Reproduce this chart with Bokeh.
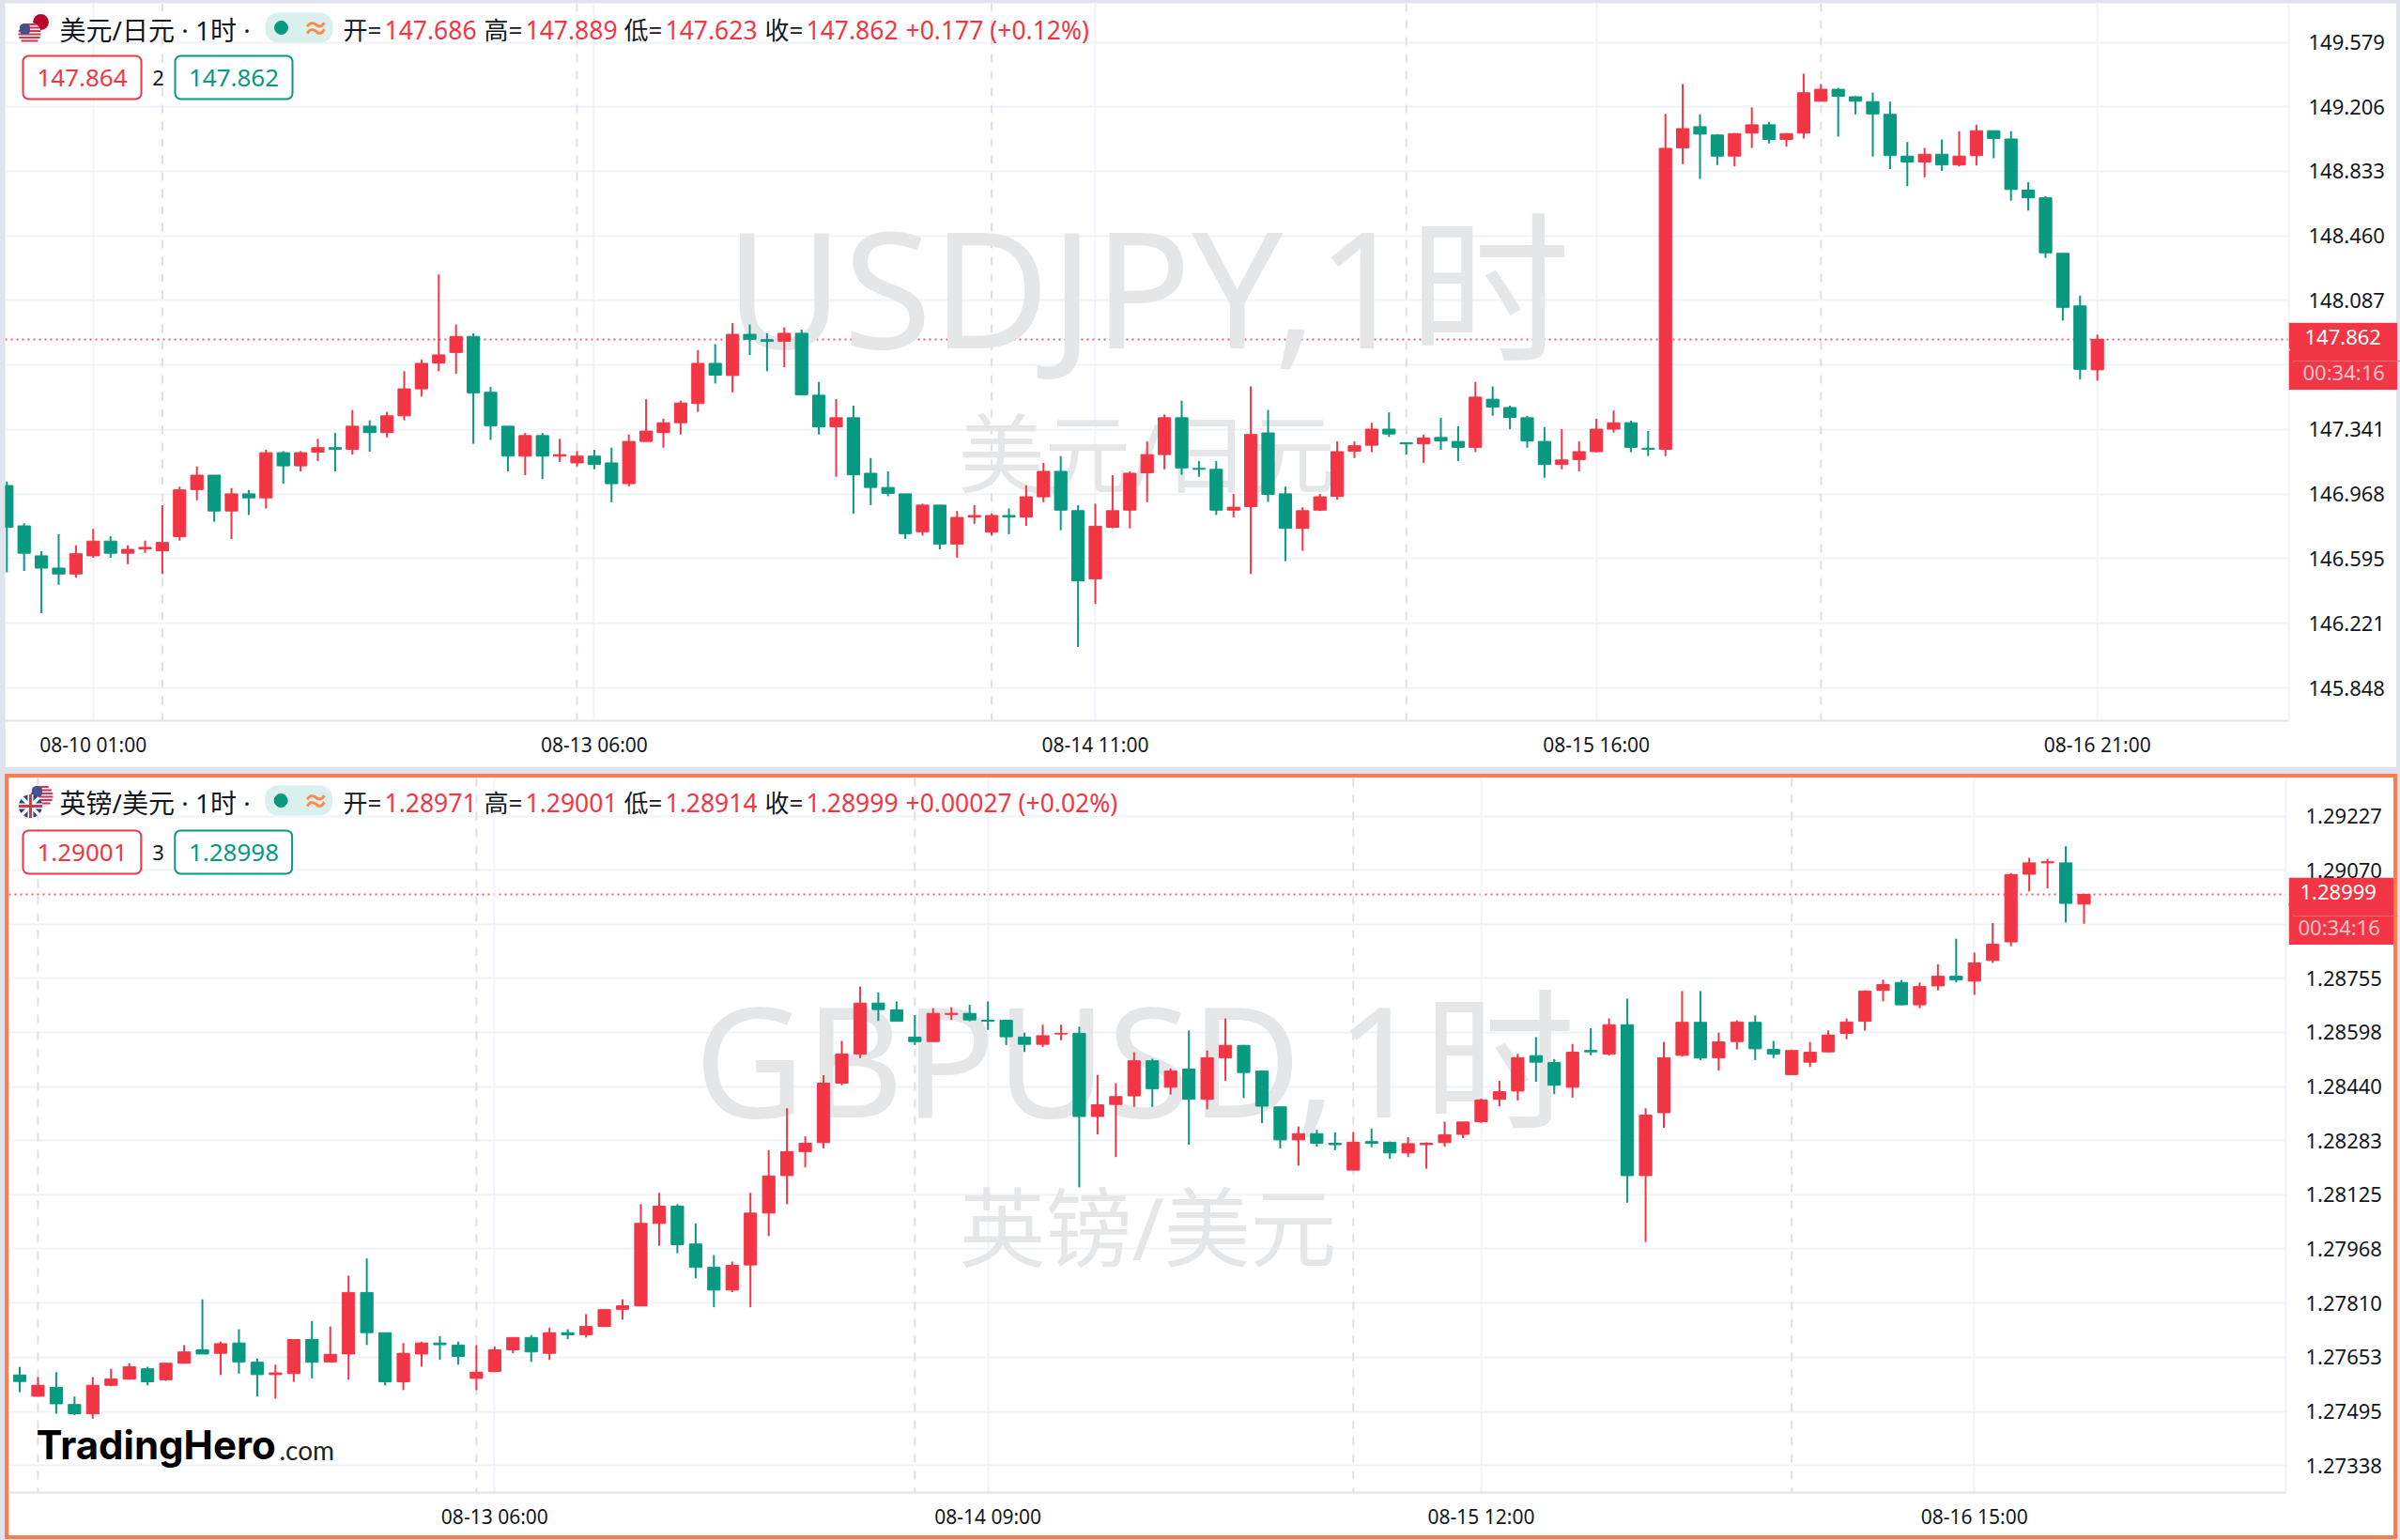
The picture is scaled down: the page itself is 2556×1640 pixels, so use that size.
from bokeh.plotting import figure
from bokeh.layouts import column
from bokeh.models import (ColumnDataSource, Range1d, LinearAxis, FixedTicker, NumeralTickFormatter,
                          Label, Span, Title, Div)
from bokeh.embed import file_html
from bokeh.resources import INLINE

usd_open = [147.017,146.784,146.611,146.540,146.506,146.611,146.696,146.626,146.651,146.640,
146.722,146.994,147.077,146.870,146.969,146.946,147.207,147.131,147.210,147.236,
147.227,147.360,147.323,147.420,147.576,147.726,147.786,147.879,147.556,147.360,
147.187,147.306,147.187,147.148,147.187,147.148,147.028,147.272,147.323,147.380,
147.491,147.723,147.653,147.891,147.860,147.851,147.897,147.539,147.357,147.409,
147.088,147.006,146.969,146.750,146.904,146.679,146.835,146.748,146.844,146.835,
146.952,147.099,146.872,146.478,146.776,146.875,147.091,147.196,147.409,147.116,
147.111,146.875,146.895,147.321,146.969,146.770,146.875,146.955,147.216,147.250,
147.343,147.264,147.258,147.295,147.272,147.238,147.516,147.468,147.409,147.272,
147.139,147.167,147.213,147.343,147.380,147.233,147.227,148.969,149.091,149.043,
148.921,149.054,149.102,149.017,149.054,149.238,149.307,149.264,149.236,149.162,
148.921,148.887,148.932,148.870,148.924,149.068,149.020,148.725,148.680,148.359,
148.055,147.686]
usd_close = [146.776,146.626,146.540,146.506,146.623,146.696,146.626,146.648,146.660,146.688,
146.992,147.077,146.870,146.969,146.946,147.207,147.131,147.207,147.236,147.227,
147.360,147.323,147.420,147.576,147.723,147.772,147.879,147.553,147.363,147.187,
147.306,147.187,147.196,147.187,147.139,147.028,147.272,147.332,147.380,147.494,
147.723,147.655,147.891,147.862,147.851,147.897,147.542,147.357,147.409,147.079,
147.006,146.972,146.739,146.904,146.679,146.833,146.844,146.844,146.835,146.952,
147.099,146.875,146.467,146.782,146.872,147.088,147.196,147.409,147.119,147.111,
146.875,146.892,147.312,146.966,146.770,146.872,146.952,147.213,147.247,147.343,
147.315,147.258,147.292,147.275,147.238,147.528,147.471,147.411,147.275,147.139,
147.165,147.213,147.343,147.380,147.238,147.227,148.966,149.080,149.048,148.921,
149.051,149.102,149.017,149.051,149.287,149.307,149.267,149.238,149.165,148.924,
148.887,148.932,148.870,148.921,149.068,149.023,148.728,148.680,148.362,148.047,
147.689,147.862]
usd_high = [147.040,146.799,146.637,146.736,146.671,146.767,146.725,146.671,146.699,146.904,
147.011,147.128,147.077,147.003,146.992,147.224,147.216,147.216,147.287,147.321,
147.454,147.394,147.443,147.678,147.746,148.237,147.948,147.897,147.587,147.360,
147.321,147.321,147.287,147.216,147.224,147.236,147.312,147.516,147.403,147.508,
147.800,147.834,147.956,147.948,147.897,147.931,147.919,147.616,147.516,147.479,
147.176,147.099,146.969,146.912,146.904,146.870,146.904,146.855,146.884,147.017,
147.148,147.187,146.904,146.912,147.077,147.099,147.272,147.428,147.508,147.159,
147.159,146.969,147.590,147.454,147.011,146.892,146.969,147.272,147.272,147.380,
147.440,147.264,147.312,147.409,147.360,147.616,147.590,147.479,147.420,147.355,
147.343,147.272,147.403,147.451,147.392,147.332,149.165,149.338,149.162,149.048,
149.054,149.202,149.119,149.054,149.397,149.338,149.315,149.267,149.289,149.236,
149.003,148.969,149.017,149.065,149.102,149.068,149.065,148.770,148.691,148.359,
148.115,147.889]
usd_low = [146.515,146.523,146.279,146.444,146.484,146.600,146.600,146.563,146.628,146.506,
146.699,146.932,146.807,146.708,146.847,146.884,147.028,147.099,147.159,147.099,
147.196,147.213,147.295,147.394,147.531,147.678,147.664,147.258,147.281,147.099,
147.077,147.054,147.153,147.128,147.111,146.921,147.011,147.272,147.236,147.312,
147.443,147.607,147.556,147.772,147.678,147.701,147.539,147.312,147.068,146.855,
146.904,146.955,146.708,146.728,146.648,146.600,146.796,146.728,146.736,146.784,
146.921,146.759,146.084,146.333,146.770,146.770,146.921,147.111,147.079,147.068,
146.847,146.833,146.506,146.923,146.580,146.640,146.870,146.935,147.176,147.210,
147.298,147.196,147.148,147.224,147.159,147.210,147.420,147.343,147.236,147.062,
147.111,147.099,147.210,147.323,147.210,147.187,147.187,148.875,148.790,148.870,
148.861,148.969,148.994,148.975,149.023,149.238,149.034,149.162,148.918,148.847,
148.748,148.799,148.836,148.861,148.867,148.909,148.663,148.606,148.333,147.970,
147.630,147.623]

gbp_open = [1.27601,1.27539,1.27565,1.27515,1.27488,1.27571,1.27589,1.27619,1.27587,1.27635,
1.27674,1.27664,1.27694,1.27638,1.27602,1.27605,1.27704,1.27639,1.27662,1.27841,
1.27724,1.27581,1.27662,1.27694,1.27688,1.27591,1.27611,1.27674,1.27710,1.27664,
1.27724,1.27718,1.27742,1.27792,1.27802,1.28042,1.28092,1.27982,1.27914,1.27848,
1.27921,1.28072,1.28181,1.28251,1.28277,1.28450,1.28535,1.28683,1.28663,1.28584,
1.28571,1.28650,1.28653,1.28633,1.28633,1.28584,1.28563,1.28593,1.28595,1.28353,
1.28388,1.28413,1.28515,1.28438,1.28491,1.28403,1.28524,1.28560,1.28485,1.28381,
1.28285,1.28303,1.28275,1.28197,1.28280,1.28278,1.28247,1.28271,1.28277,1.28301,
1.28338,1.28403,1.28427,1.28530,1.28510,1.28438,1.28545,1.28535,1.28620,1.28181,
1.28364,1.28531,1.28627,1.28524,1.28571,1.28627,1.28548,1.28475,1.28511,1.28541,
1.28595,1.28630,1.28720,1.28743,1.28678,1.28733,1.28761,1.28747,1.28807,1.28861,
1.29058,1.29091,1.29091,1.28971]
gbp_close = [1.27582,1.27571,1.27517,1.27488,1.27571,1.27589,1.27625,1.27581,1.27635,1.27668,
1.27662,1.27692,1.27639,1.27602,1.27607,1.27704,1.27638,1.27661,1.27841,1.27724,
1.27581,1.27664,1.27694,1.27689,1.27655,1.27609,1.27674,1.27710,1.27668,1.27724,
1.27718,1.27742,1.27791,1.27802,1.28042,1.28092,1.27980,1.27914,1.27848,1.27920,
1.28072,1.28180,1.28251,1.28275,1.28450,1.28535,1.28683,1.28664,1.28630,1.28571,
1.28653,1.28653,1.28634,1.28630,1.28585,1.28563,1.28588,1.28595,1.28353,1.28387,
1.28411,1.28515,1.28434,1.28485,1.28403,1.28524,1.28560,1.28481,1.28383,1.28285,
1.28303,1.28275,1.28271,1.28278,1.28275,1.28247,1.28274,1.28275,1.28300,1.28337,
1.28401,1.28425,1.28524,1.28511,1.28444,1.28540,1.28541,1.28620,1.28181,1.28357,
1.28524,1.28627,1.28523,1.28570,1.28628,1.28550,1.28535,1.28545,1.28540,1.28590,
1.28628,1.28718,1.28737,1.28678,1.28731,1.28761,1.28751,1.28800,1.28854,1.29057,
1.29091,1.29094,1.28973,1.28999]
gbp_high = [1.27624,1.27595,1.27609,1.27538,1.27595,1.27619,1.27635,1.27625,1.27635,1.27688,
1.27821,1.27698,1.27734,1.27649,1.27631,1.27704,1.27758,1.27742,1.27890,1.27940,
1.27724,1.27694,1.27698,1.27714,1.27698,1.27688,1.27684,1.27710,1.27717,1.27738,
1.27734,1.27778,1.27792,1.27821,1.28098,1.28131,1.28098,1.28042,1.27950,1.27931,
1.28131,1.28255,1.28377,1.28295,1.28473,1.28573,1.28731,1.28714,1.28688,1.28648,
1.28668,1.28671,1.28678,1.28688,1.28633,1.28597,1.28620,1.28620,1.28614,1.28474,
1.28450,1.28540,1.28521,1.28493,1.28603,1.28545,1.28638,1.28561,1.28487,1.28381,
1.28324,1.28314,1.28307,1.28308,1.28318,1.28280,1.28293,1.28278,1.28338,1.28337,
1.28405,1.28457,1.28535,1.28584,1.28520,1.28564,1.28610,1.28638,1.28696,1.28377,
1.28570,1.28718,1.28718,1.28597,1.28633,1.28647,1.28573,1.28545,1.28570,1.28603,
1.28638,1.28720,1.28751,1.28750,1.28743,1.28796,1.28870,1.28830,1.28916,1.29061,
1.29106,1.29103,1.29139,1.29001]
gbp_low = [1.27551,1.27538,1.27488,1.27484,1.27474,1.27568,1.27587,1.27571,1.27584,1.27635,
1.27662,1.27601,1.27605,1.27538,1.27532,1.27581,1.27591,1.27638,1.27587,1.27688,
1.27571,1.27557,1.27625,1.27645,1.27631,1.27557,1.27609,1.27664,1.27639,1.27645,
1.27705,1.27710,1.27742,1.27762,1.27802,1.27977,1.27955,1.27882,1.27798,1.27842,
1.27798,1.28005,1.28098,1.28205,1.28260,1.28444,1.28523,1.28631,1.28630,1.28561,
1.28571,1.28634,1.28630,1.28605,1.28561,1.28541,1.28555,1.28575,1.28147,1.28301,
1.28235,1.28381,1.28381,1.28417,1.28271,1.28374,1.28457,1.28407,1.28334,1.28260,
1.28210,1.28265,1.28255,1.28197,1.28264,1.28230,1.28235,1.28201,1.28265,1.28290,
1.28334,1.28383,1.28400,1.28454,1.28418,1.28408,1.28531,1.28530,1.28102,1.27988,
1.28320,1.28527,1.28517,1.28487,1.28548,1.28517,1.28523,1.28474,1.28497,1.28540,
1.28578,1.28603,1.28688,1.28677,1.28668,1.28720,1.28743,1.28707,1.28800,1.28848,
1.29008,1.29017,1.28917,1.28914]

usd_price_ticks = [149.579,149.206,148.833,148.460,148.087,147.341,146.968,146.595,146.221,145.848]
usd_grid_ticks = [149.579,149.206,148.833,148.460,148.087,147.714,147.341,146.968,146.595,146.221,145.848]
usd_time_index = [5,34,63,92,121]
usd_time_labels = ["08-10 01:00","08-13 06:00","08-14 11:00","08-15 16:00","08-16 21:00"]
usd_session_index = [9,33,57,81,105]

gbp_price_ticks = [1.29227,1.29070,1.28755,1.28598,1.28440,1.28283,1.28125,1.27968,1.27810,1.27653,1.27495,1.27338]
gbp_grid_ticks = [1.29227,1.29070,1.28912,1.28755,1.28598,1.28440,1.28283,1.28125,1.27968,1.27810,1.27653,1.27495,1.27338]
gbp_time_index = [26,53,80,107]
gbp_time_labels = ["08-13 06:00","08-14 09:00","08-15 12:00","08-16 15:00"]
gbp_session_index = [1,25,49,73,97]

RED = "#f23645"
GREEN = "#089981"
TXT = "#131722"
GRID = "#f0f3fa"
PAGE = "#e0e3eb"
FONT = "Noto Sans, Noto Sans CJK SC"
WM = "#e5e6e8"


def panel(o, h, l, c, fx0, fx1, fy0, fy1, ox0, ox1, oy0, oy1, xa, xb, pa, ya, pb, yb,
          pticks, gticks, fmt, ti, tl, si, last):
    """f*: frame box in page px; o*: outer figure box in page px.
    Bars sit at page px xa + xb*i, prices map through (pa, ya), (pb, yb)."""
    X = lambda px: (px - xa) / xb
    Y = lambda py: pa + (py - ya) * (pb - pa) / (yb - ya)
    p = figure(width=ox1 - ox0, height=oy1 - oy0, output_backend="svg", toolbar_location=None,
               x_range=Range1d(X(fx0), X(fx1)), y_range=Range1d(Y(fy1), Y(fy0)),
               min_border_left=fx0 - ox0, min_border_right=ox1 - fx1,
               min_border_top=fy0 - oy0, min_border_bottom=oy1 - fy1,
               x_axis_location=None, y_axis_location=None,
               background_fill_color="white", border_fill_color="white")
    p.outline_line_color = None

    ax = LinearAxis(ticker=FixedTicker(ticks=ti),
                    major_label_overrides={t: s for t, s in zip(ti, tl)})
    ax.major_label_text_font = FONT
    ax.major_label_text_font_size = "21px"
    ax.major_label_text_color = TXT
    ax.major_label_standoff = 5
    ax.major_tick_line_color = None
    ax.minor_tick_line_color = None
    ax.axis_line_color = PAGE
    ax.axis_line_width = 2
    p.add_layout(ax, "below")

    ay = LinearAxis(ticker=FixedTicker(ticks=pticks), formatter=NumeralTickFormatter(format=fmt))
    ay.major_label_text_font = FONT
    ay.major_label_text_font_size = "22px"
    ay.major_label_text_color = TXT
    ay.major_label_standoff = 15
    ay.major_tick_line_color = None
    ay.minor_tick_line_color = None
    ay.axis_line_color = GRID
    ay.axis_line_width = 2
    p.add_layout(ay, "right")

    p.xgrid.ticker = FixedTicker(ticks=ti)
    p.xgrid.grid_line_color = GRID
    p.xgrid.grid_line_width = 2
    p.ygrid.ticker = FixedTicker(ticks=gticks)
    p.ygrid.grid_line_color = GRID
    p.ygrid.grid_line_width = 2

    for s in si:
        p.add_layout(Span(location=s, dimension="height", line_color="#dde0e8", line_width=2,
                          line_dash="9 9", level="underlay"))
    p.segment(x0=[X(fx0)], x1=[X(fx1)], y0=[last], y1=[last], color=RED,
              line_width=2, line_dash="2 4", line_alpha=0.8, level="underlay")

    colors = [RED if cc >= oo else GREEN for oo, cc in zip(o, c)]
    src = ColumnDataSource(dict(i=list(range(len(o))), o=o, h=h, l=l, c=c, col=colors))
    p.segment("i", "h", "i", "l", source=src, color="col", line_width=2)
    p.vbar("i", top="o", bottom="c", width=13.2 / xb, source=src, fill_color="col",
           line_color="col", line_width=1)

    def txt(s, px, py, size, color=TXT, align="left", style="normal", level="annotation", font=FONT, **kw):
        p.add_layout(Label(x=px - fx0, y=fy1 - py, x_units="screen", y_units="screen", text=s,
                           text_font=font, text_font_size=f"{size}px", text_color=color,
                           text_align=align, text_baseline="middle", text_font_style=style,
                           level=level, **kw))

    p._X, p._Y, p._txt = X, Y, txt

    def header(title, cy, ocy, vals, bid, ask, spread):
        tcy = cy - 1
        txt(title, 63, tcy, 28)
        for s, xx in zip(["开=", "高=", "低=", "收="], [365, 515, 664, 814]):
            txt(s, xx, tcy, 26)
        for s, xx in zip(vals, [409, 559, 708, 858, 964]):
            txt(s, xx, tcy, 26.5, RED)
        py0, py1 = cy - 19, cy + 13
        p.quad(left=[X(282)], right=[X(354)], top=[Y(py0)], bottom=[Y(py1)], fill_color="#daf0ec",
               line_color=None, border_radius=14)
        p.scatter([X(299)], [Y(cy - 3)], size=14, color=GREEN)
        txt("≈", 336, cy - 3, 28, "#ff8a50", "center", "bold")
        for x0, x1, col, s in [(24, 150, RED, bid), (186, 311, GREEN, ask)]:
            p.quad(left=[X(x0)], right=[X(x1)], top=[Y(ocy - 23)], bottom=[Y(ocy + 23)], fill_color="white",
                   fill_alpha=0.9, line_color=col, line_width=2, border_radius=6)
            txt(s, (x0 + x1) / 2, ocy, 26, col, "center")
        txt(spread, 168, ocy, 22, TXT, "center")
    p._header = header
    return p


def price_tag(price, left, top_px, w, h):
    t = figure(width=w, height=h, output_backend="svg", toolbar_location=None,
               x_range=Range1d(0, 1), y_range=Range1d(0, 1), min_border=0,
               x_axis_location=None, y_axis_location=None,
               background_fill_color=RED, border_fill_color=RED,
               styles={"position": "absolute", "left": f"{left}px", "top": f"{top_px}px", "z-index": "5"})
    t.outline_line_color = None
    t.title.text = price
    t.title.align = "left"
    t.title.offset = (w - 81) // 2
    t.title.text_font = FONT
    t.title.text_font_size = "22px"
    t.title.text_font_style = "normal"
    t.title.text_color = "white"
    t.add_layout(Title(text="00:34:16", align="left", offset=(w - 86) // 2, text_font=FONT, text_font_size="22px",
                       text_font_style="normal", text_color="#fbc3c8"), "below")
    line = Div(width=w, height=1, styles={"position": "absolute", "left": f"{left}px",
                                          "top": f"{top_px + h // 2}px", "z-index": "6",
                                          "background-color": "#f66a75"})
    return t, line


def us_flag(p, cx, cy, r=12):
    X, Y = p._X, p._Y
    p.scatter([X(cx)], [Y(cy)], size=2 * r, color="#f4f5f8", line_color=None)
    for d in [-9.5, -6, -2.5, 1, 4.5, 8]:
        half = (r * r - d * d) ** 0.5
        p.segment([X(cx - half)], [Y(cy + d)], [X(cx + half)], [Y(cy + d)], color="#d8344a", line_width=1.8)
    p.quad(left=[X(cx - 10.5)], right=[X(cx + 0.5)], top=[Y(cy - 10)], bottom=[Y(cy + 1)],
           fill_color="#45508f", line_color=None, border_radius=4)


def jp_flag(p, cx, cy, r=12):
    X, Y = p._X, p._Y
    p.scatter([X(cx)], [Y(cy)], size=2 * r, color="white", line_color="#eef0f3", line_width=1)
    p.scatter([X(cx)], [Y(cy)], size=r * 1.4, color="#bc002d", line_color=None)


def uk_flag(p, cx, cy, r=12.5):
    X, Y = p._X, p._Y
    p.scatter([X(cx)], [Y(cy)], size=2 * r, color="#2a3f8f", line_color=None)
    d = r * 0.72
    p.segment([X(cx - d), X(cx - d)], [Y(cy - d), Y(cy + d)], [X(cx + d), X(cx + d)], [Y(cy + d), Y(cy - d)],
              color="white", line_width=3.5)
    p.segment([X(cx - r), X(cx)], [Y(cy), Y(cy - r)], [X(cx + r), X(cx)], [Y(cy), Y(cy + r)], color="white", line_width=6)
    p.segment([X(cx - r), X(cx)], [Y(cy), Y(cy - r)], [X(cx + r), X(cx)], [Y(cy), Y(cy + r)], color="#d8344a", line_width=3)


# ---------- USD/JPY ----------
top = panel(usd_open, usd_high, usd_low, usd_close,
            5, 2437, 3, 767, 5, 2552, 3, 817,
            6.8, 18.4, 149.579, 44.5, 145.848, 732,
            usd_price_ticks, usd_grid_ticks, "0.000", usd_time_index, usd_time_labels,
            usd_session_index, 147.862)
top._txt("USDJPY,1时", 1222, 303, 172, WM, "center", level="underlay")
top._txt("美元/日元", 1221, 482, 92, WM, "center", level="underlay")
jp_flag(top, 43, 23)
us_flag(top, 31, 35)
top._header("美元/日元 · 1时 ·", 32, 82, ["147.686", "147.889", "147.623", "147.862", "+0.177 (+0.12%)"],
            "147.864", "147.862", "2")
top.margin = (3, 4, 8, 5)

# ---------- GBP/USD ----------
bot = panel(gbp_open, gbp_high, gbp_low, gbp_close,
            9, 2437, 828, 1589, 9, 2549, 828, 1635,
            20.5, 19.48, 1.29227, 868.6, 1.27338, 1560,
            gbp_price_ticks, gbp_grid_ticks, "0.00000", gbp_time_index, gbp_time_labels,
            gbp_session_index, 1.28999)
bot._txt("GBPUSD,1时", 1208, 1126, 162, WM, "center", level="underlay")
bot._txt("英镑/美元", 1222, 1306, 92, WM, "center", level="underlay")
us_flag(bot, 44, 847)
uk_flag(bot, 32, 858)
bot._header("英镑/美元 · 1时 ·", 855, 907, ["1.28971", "1.29001", "1.28914", "1.28999", "+0.00027 (+0.02%)"],
            "1.29001", "1.28998", "3")
bot._txt("TradingHero", 38, 1538, 42, "black", "left", "bold", font="Inter")
bot._txt(".com", 297, 1543, 28, "#222222", "left", font="Lato")
bot.margin = (3, 7, 5, 9)
bot.styles = {"outline": "4px solid #ff7a4d"}

tag_top, line_top = price_tag("147.862", 2437, 343, 116, 72)
tag_bot, line_bot = price_tag("1.28999", 2437, 934, 112, 72)

root = column(top, bot, tag_top, tag_bot, line_top, line_bot, spacing=0, width=2556, height=1640,
              styles={"position": "absolute", "left": "0", "top": "0", "background-color": PAGE})

open("out.html", "w").write(file_html(root, INLINE))
